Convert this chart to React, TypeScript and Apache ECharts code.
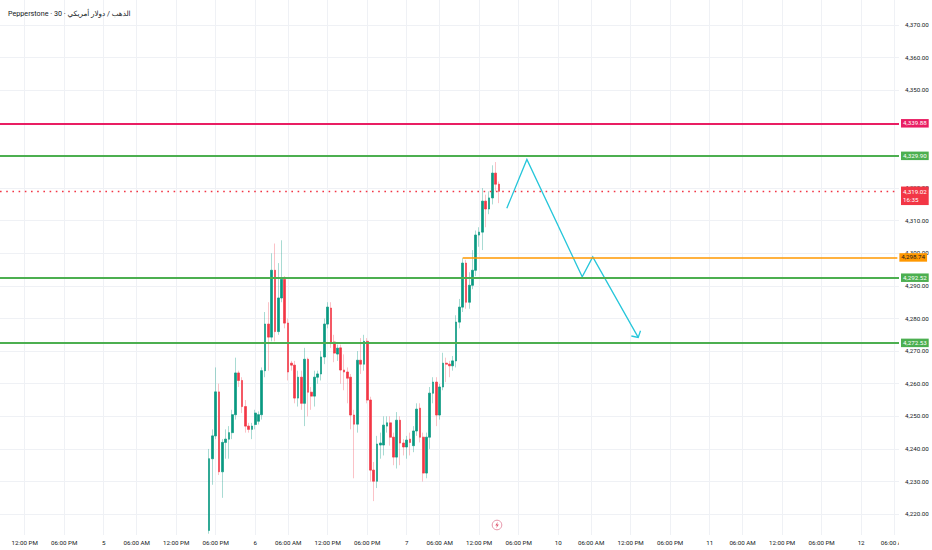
import React, { useEffect, useRef } from "react";
import * as echarts from "echarts";

// ---- data ----
const title = "Pepperstone · 30 · الذهب / دولار أمريكي";

// time axis tick labels (30-minute bars; TradingView index-based axis)
const tickLabels = [
  "12:00 PM", "06:00 PM", "5", "06:00 AM", "12:00 PM", "06:00 PM", "6", "06:00 AM",
  "12:00 PM", "06:00 PM", "7", "06:00 AM", "12:00 PM", "06:00 PM", "10", "06:00 AM",
  "12:00 PM", "06:00 PM", "11", "06:00 AM", "12:00 PM", "06:00 PM", "12", "06:00 AM",
];
// bars until next tick, by tick kind (day label has a 1h session break)
const barsAfterTick: Record<string, number> = { "12:00 PM": 12, "06:00 PM": 12, "06:00 AM": 12, day: 10 };
const firstTickBar = 7;
const totalBars = 273;
const firstCandleBar = 63;

const opens = [4215,4237,4244,4257.5,4233,4242,4243,4245,4250.5,4263.3,4261,4253,4247,4246,4247.5,4248.5,4250.5,4264,4278.3,4274.3,4294.8,4276,4286.3,4292,4278.6,4266.3,4265.7,4255.6,4262,4254,4267.5,4257.4,4256.2,4262,4263,4268.2,4278.3,4283.2,4272.8,4269.1,4271,4264.2,4263.6,4262,4250.4,4247.6,4267.2,4266,4273,4255,4233.5,4230.1,4241.2,4241.2,4247,4248,4243.6,4237.5,4248.8,4241.8,4240.6,4243,4241,4245.5,4252.5,4243.6,4232.6,4243.6,4257.1,4260.5,4250.4,4259,4266.3,4266,4265.5,4267,4278.9,4283.5,4297,4285,4290.2,4294.8,4305.6,4306.5,4316,4313.6,4317,4324.6,4321.2];
const closes = [4237,4244,4257.5,4233,4242,4243,4245,4250.5,4263.3,4261,4253,4247,4246,4247,4251,4250.5,4264,4278.3,4274.3,4294.8,4276,4286.3,4292,4278.6,4263.6,4265.7,4255.6,4262,4254,4267.5,4257.4,4256.2,4262,4263,4268.2,4278.3,4283.5,4272.5,4269.4,4270.9,4264.2,4263.6,4261.7,4250.4,4247.6,4267.2,4266,4273,4255,4233.5,4230.1,4241.5,4241.8,4247.3,4248,4243.6,4237.5,4248.8,4241.8,4240.6,4242.7,4242,4245.5,4252.2,4243.6,4232.6,4243.6,4257.1,4260.5,4250.4,4259,4266.3,4266,4265.5,4267,4278.9,4283.5,4297,4285,4290.2,4294.8,4305.6,4306.5,4316,4313.6,4317,4324.6,4321.2,4319.02];
const lows = [4214,4229,4243,4232,4225,4237,4237,4243,4249,4259,4251,4245,4245,4243,4246,4247.5,4249,4262,4264,4273,4273,4275,4285,4277,4261,4264,4254,4253,4252,4247,4250,4252,4253,4260,4261,4266,4277,4271,4266.6,4267,4260,4258,4254,4246,4231,4245,4263,4264,4254,4230,4224,4228,4237,4238,4245,4241,4235,4234,4235,4238,4237,4238,4239,4244,4242,4230,4231,4240,4254,4247,4249,4258,4260.5,4262,4264,4265,4277,4282,4283,4283,4289,4293,4302,4301,4308,4312,4315,4319,4315.4];
const highs = [4240,4246,4265,4260,4243,4246,4247,4252,4268,4264,4262,4255,4248,4248,4252,4251.5,4265,4282,4285,4300,4303,4297,4304,4293,4280,4267,4267,4264,4264,4271,4268,4259,4264,4264,4270,4280,4285,4285,4275,4272,4272,4269,4265,4263,4252,4270,4274,4275,4274,4256,4236,4244,4245,4250,4250,4250,4245,4251.3,4250,4243,4244,4245,4247,4254,4254,4245,4245,4259,4262,4262,4260,4269.5,4268,4267,4268.5,4281,4286,4298.5,4298,4294.2,4301,4307,4308,4320,4318,4319,4327,4328,4322];

const priceTicks = [4220,4230,4240,4250,4260,4270,4280,4290,4300,4310,4320,4330,4340,4350,4360,4370];
// labels hidden behind level boxes in the reference are not drawn
const priceTickLabels = [4220,4230,4240,4250,4260,4270,4280,4290,4300,4310,4320,4350,4360,4370];
const priceMin = 4213.6;
const priceMax = 4377.7;

const levelPrices = [4339.88, 4329.9, 4292.52, 4272.53];
const levelColors = ["#e91e63", "#4caf50", "#4caf50", "#4caf50"];
const lastPrice = 4319.02;
const countdown = "16:35";
const orangeLevel = 4298.74;
const orangeStartCandle = 77;

// projection drawing (bar position, price)
const drawBars = [153.4, 159.5, 176.3, 179.5, 193.3];
const drawPrices = [4313.8, 4328.8, 4292.8, 4298.9, 4274.2];

const FONT = "Roboto, 'DejaVu Sans', sans-serif";
const fmt = (v: number) =>
  v.toLocaleString("en-US", { minimumFractionDigits: 2, maximumFractionDigits: 2 });

export default function App() {
  const ref = useRef<HTMLDivElement>(null);
  useEffect(() => {
    if (!ref.current) return;
    const chart = echarts.init(ref.current, undefined, { renderer: "svg" });

    const categories: string[] = [];
    for (let k = 0; k < totalBars; k++) categories.push(String(k));
    const tickMap = new Map<number, string>();
    let pos = firstTickBar;
    tickLabels.forEach((lab) => {
      tickMap.set(pos, lab);
      const key = /^\d+$/.test(lab) ? "day" : lab;
      pos += barsAfterTick[key];
    });
    const isTick = (i: number) => tickMap.has(i);

    const wickData = opens.map((o, i) => [firstCandleBar + i, o, closes[i], lows[i], highs[i]]);
    const bodyData = opens.map((o, i) => [
      firstCandleBar + i, o, closes[i], Math.min(o, closes[i]), Math.max(o, closes[i]),
    ]);

    const boxLabel = (bg: string, fg: string, text: string) => ({
      show: true,
      position: "end",
      formatter: text,
      color: fg,
      backgroundColor: bg,
      fontSize: 6.2,
      fontFamily: FONT,
      padding: [1.5, 2, 1, 2],
      distance: 2,
    });

    const markData: any[] = levelPrices.map((p, i) => ({
      yAxis: p,
      lineStyle: { color: levelColors[i], width: 2, type: "solid" },
      label: boxLabel(levelColors[i], "#ffffff", fmt(p)),
    }));
    markData.push({
      yAxis: lastPrice,
      lineStyle: { color: "#f23645", width: 1.3, type: [1.6, 4.6] },
      label: {
        ...boxLabel("#f23645", "#ffffff", fmt(lastPrice) + "\n" + countdown),
        lineHeight: 8,
        offset: [0, 4.5],
      },
    });
    markData.push([
      {
        coord: [String(firstCandleBar + orangeStartCandle), orangeLevel],
        lineStyle: { color: "#ff9800", width: 1.5, type: "solid" },
        label: boxLabel("#ff9800", "#131722", fmt(orangeLevel)),
      },
      { coord: [String(totalBars - 1), orangeLevel] },
    ]);

    chart.setOption({
      animation: false,
      backgroundColor: "#ffffff",
      title: {
        text: title,
        left: 3,
        top: 5,
        textStyle: { fontSize: 7.2, fontWeight: "normal", color: "#131722", fontFamily: FONT },
      },
      grid: { left: 0, right: 33, top: 0, bottom: 15, containLabel: false },
      xAxis: {
        type: "category",
        data: categories,
        boundaryGap: true,
        axisLine: { show: false },
        axisTick: { show: false, alignWithLabel: true, interval: (i: number) => isTick(i) },
        axisLabel: {
          interval: (i: number) => isTick(i),
          formatter: (_v: string, i: number) => tickMap.get(i) ?? "",
          fontSize: 6.2,
          color: "#131722",
          fontFamily: FONT,
          margin: 5,
        },
        splitLine: {
          show: true,
          alignWithLabel: true,
          interval: (i: number) => isTick(i),
          lineStyle: { color: "#eff1f5", width: 1 },
        },
      },
      yAxis: {
        type: "value",
        position: "right",
        min: priceMin,
        max: priceMax,
        axisLine: { show: false },
        axisTick: { show: false, customValues: priceTicks },
        axisLabel: {
          customValues: priceTickLabels,
          formatter: (v: number) => fmt(v),
          fontSize: 6.2,
          color: "#131722",
          fontFamily: FONT,
          margin: 6,
        },
        splitLine: { show: true, lineStyle: { color: "#eff1f5", width: 1 } },
      },
      series: [
        {
          type: "candlestick",
          name: "wicks",
          data: wickData,
          encode: { x: 0, y: [1, 2, 3, 4] },
          barWidth: 2.2,
          itemStyle: {
            color: "rgba(0,0,0,0)",
            color0: "rgba(0,0,0,0)",
            borderColor: "rgba(8,153,129,0.35)",
            borderColor0: "rgba(242,54,69,0.3)",
            borderWidth: 1,
          },
          z: 2,
        },
        {
          type: "candlestick",
          name: "bodies",
          data: bodyData,
          encode: { x: 0, y: [1, 2, 3, 4] },
          barWidth: 2.2,
          itemStyle: {
            color: "#089981",
            color0: "#f23645",
            borderColor: "#089981",
            borderColor0: "#f23645",
            borderWidth: 0.5,
          },
          markLine: {
            symbol: ["none", "none"],
            silent: true,
            animation: false,
            data: markData,
          },
          z: 3,
        },
        {
          type: "custom",
          name: "projection",
          data: [[0, drawPrices[0]]],
          encode: { x: 0, y: 1 },
          z: 4,
          renderItem: (params: any, api: any) => {
            if (params.dataIndex !== 0) return null;
            const bw = api.size([1, 0])[0];
            const pts = drawBars.map((b, i) => {
              const base = Math.floor(b);
              const c = api.coord([base, drawPrices[i]]);
              return [c[0] + (b - base) * bw, c[1]];
            });
            const p1 = pts[pts.length - 2];
            const p2 = pts[pts.length - 1];
            const ang = Math.atan2(p2[1] - p1[1], p2[0] - p1[0]);
            const len = 7;
            const spread = 0.85;
            const a1 = [p2[0] - len * Math.cos(ang - spread), p2[1] - len * Math.sin(ang - spread)];
            const a2 = [p2[0] - len * Math.cos(ang + spread), p2[1] - len * Math.sin(ang + spread)];
            const st = { stroke: "#26c6da", lineWidth: 1.3, fill: "none" };
            return {
              type: "group",
              children: [
                { type: "polyline", shape: { points: pts }, style: st },
                { type: "polyline", shape: { points: [a1, p2, a2] }, style: st },
              ],
            };
          },
        },
      ],
      graphic: [
        { type: "rect", shape: { x: 899, y: 536, width: 33, height: 14 }, style: { fill: "#ffffff" }, z: 50 },
        {
          type: "circle",
          shape: { cx: 497, cy: 525, r: 4.8 },
          style: { fill: "#ffffff", stroke: "#e07a93", lineWidth: 0.8 },
          z: 60,
        },
        {
          type: "polygon",
          shape: { points: [[497.8, 521.8], [495.3, 525.4], [497, 525.4], [496.2, 528.3], [498.8, 524.5], [497.1, 524.5]] },
          style: { fill: "#e0566f" },
          z: 61,
        },
      ],
    });
    return () => chart.dispose();
  }, []);
  return (
    <div
      ref={ref}
      style={{ position: "fixed", left: 0, top: 0, width: 932, height: 550, background: "#fff" }}
    />
  );
}
